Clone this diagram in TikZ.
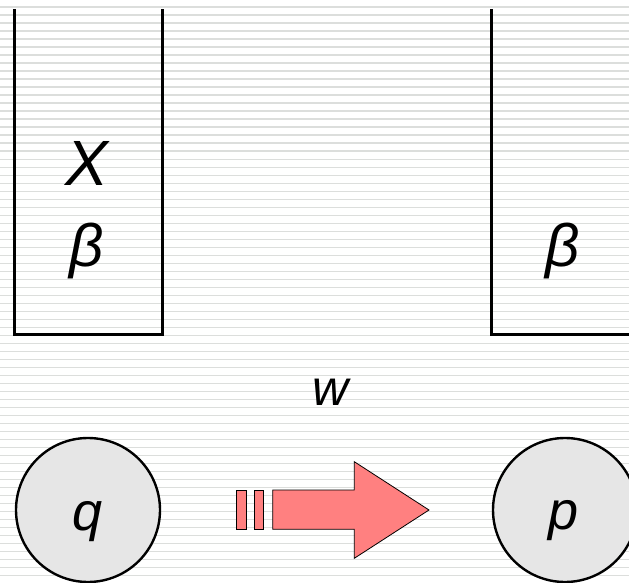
\documentclass[tikz,border=0pt]{standalone}
\usepackage{fontspec}
\setmainfont{Liberation Sans}
\definecolor{ruled}{HTML}{DCDEDC}
\definecolor{statefill}{HTML}{E6E6E6}
\definecolor{arrowfill}{HTML}{FF8080}
\begin{document}
\begin{tikzpicture}[x=1pt,y=-1pt,
  stackwall/.style={line width=3pt,line join=miter},
  state/.style={circle,draw,line width=2.4pt,fill=statefill,minimum size=144pt,inner sep=0pt},
  symb/.style={font=\fontsize{#1}{#1}\selectfont\itshape,inner sep=0pt,anchor=base},
  shaftpart/.style={draw,line width=0.8pt,fill=arrowfill}]
  \useasboundingbox (0,0) rectangle (629,583);
  % ruled paper background
  \fill[white] (0,0) rectangle (629,583);
  \foreach \k in {-1,...,72}
    \draw[ruled,line width=1.6pt] (0,7.3+8*\k) -- (629,7.3+8*\k);
  % stacks
  \draw[stackwall] (14,9.5) -- (14,334) -- (162,334) -- (162,9.5);
  \draw[stackwall] (491,9.5) -- (491,334) -- (640,334);
  \node[symb=64] (top) at (87,185) {X};
  \node[symb=60] (betaL) at (87,266) {β};
  \node[symb=60] (betaR) at (563,266) {β};
  \node[symb=50] (word) at (331,405) {w};
  % states
  \node[state] (q) at (88,510) {};
  \node[state] (p) at (565,510) {};
  \node[symb=54] (qlab) at (88,530) {q};
  \node[symb=54] (plab) at (564,529) {p};
  % transition arrow: two dashes, then the block arrow
  \draw[shaftpart] (236.7,490) rectangle (246,529.3);
  \draw[shaftpart] (254.3,490) rectangle (263.3,529.3);
  \draw[shaftpart,line join=miter] (272.7,490) -- (354.3,490) -- (354.3,461.7) -- (429,510)
    -- (354.3,558.3) -- (354.3,529.3) -- (272.7,529.3) -- cycle;
\end{tikzpicture}
\end{document}
